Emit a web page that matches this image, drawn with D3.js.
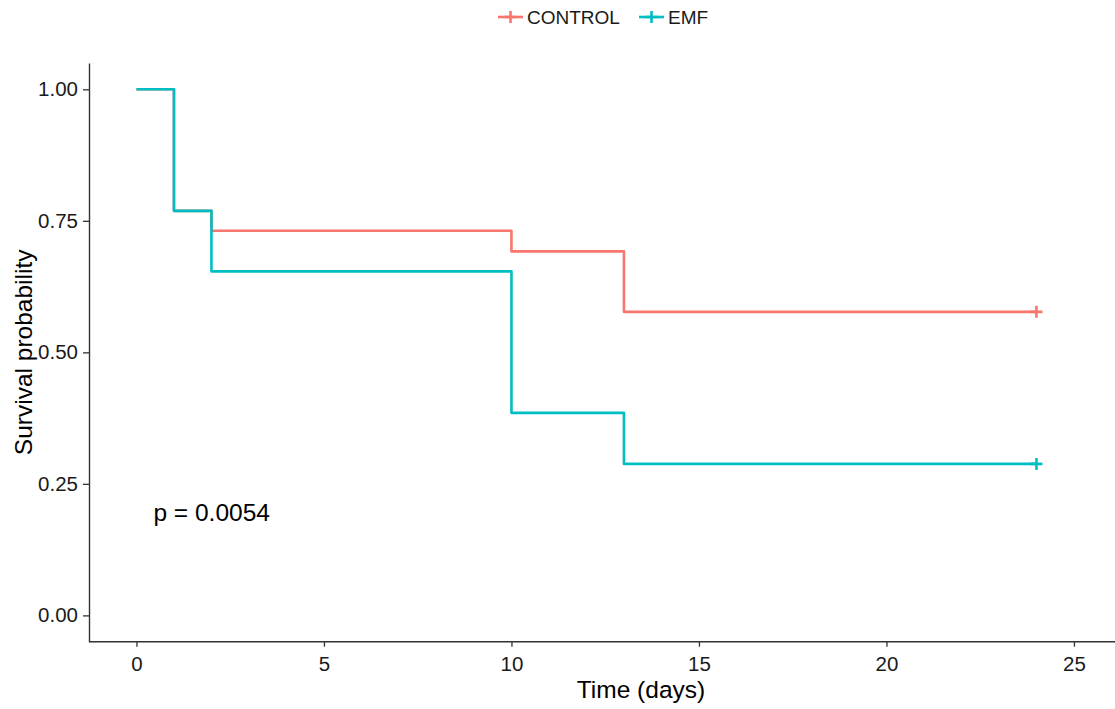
<!DOCTYPE html>
<html>
<head>
<meta charset="utf-8">
<script src="https://cdn.jsdelivr.net/npm/d3@7"></script>
<style>
  body { margin: 0; background: #fff; }
  svg { display: block; font-family: "Liberation Sans", Arial, sans-serif; }
</style>
</head>
<body>
<svg id="km"></svg>
<script>
// ---- data ----
const groups = ["CONTROL", "EMF"];
const groupColors = ["#F8766D", "#00BFC4"];
const controlTime = [0, 1, 2, 10, 13, 24];
const controlSurv = [1.00, 0.769, 0.731, 0.692, 0.577, 0.577];
const emfTime = [0, 1, 2, 10, 13, 24];
const emfSurv = [1.00, 0.769, 0.654, 0.385, 0.288, 0.288];
const censorTime = [24, 24];
const censorSurv = [0.577, 0.288];
const xTicks = [0, 5, 10, 15, 20, 25];
const yTicks = [0, 0.25, 0.5, 0.75, 1];
const pLabel = "p = 0.0054";

const W = 1115, H = 709;
const mLeft = 89, mBottom = 641.7, mTop = 63;

const svg = d3.select("#km")
    .attr("width", W)
    .attr("height", H);

svg.append("rect").attr("width", W).attr("height", H).attr("fill", "#fff");

// scales (ggplot style 5% expansion)
const xScale = d3.scaleLinear()
    .domain([-1.3, 27.3])
    .range([mLeft - 1.3, mLeft - 1.3 + 28.6 * 37.5]);

const yScale = d3.scaleLinear()
    .domain([-0.05, 1.05])
    .range([mBottom, mTop]);

const color = d3.scaleOrdinal().domain(groups).range(groupColors);

// axes
const xAxis = svg.append("g")
    .attr("class", "x axis")
    .attr("transform", `translate(0,${mBottom})`)
    .call(d3.axisBottom(xScale).tickValues(xTicks).tickSize(5).tickPadding(5).tickSizeOuter(0));

// stretch the x axis line back to the y axis
xAxis.select(".domain").attr("d", `M${mLeft},0H${W + 10}`);

const yAxis = svg.append("g")
    .attr("class", "y axis")
    .attr("transform", `translate(${mLeft},0)`)
    .call(d3.axisLeft(yScale).tickValues(yTicks).tickSize(6).tickPadding(5)
        .tickFormat(d3.format(".2f")).tickSizeOuter(0));

svg.selectAll(".axis path").attr("stroke", "#333").attr("stroke-width", 1.4);
svg.selectAll(".axis line").attr("stroke", "#333").attr("stroke-width", 1.3);
svg.selectAll(".axis text")
    .attr("fill", "#1a1a1a")
    .style("font-size", "20.5px")
    .style("font-family", "Liberation Sans, Arial, sans-serif");
xAxis.selectAll("text").attr("dy", "0.95em");

// axis titles
svg.append("text")
    .attr("x", 641)
    .attr("y", 698)
    .attr("text-anchor", "middle")
    .style("font-size", "24.5px")
    .attr("fill", "#000")
    .text("Time (days)");

svg.append("text")
    .attr("transform", `translate(32,${yScale(0.5)}) rotate(-90)`)
    .attr("text-anchor", "middle")
    .style("font-size", "24.5px")
    .attr("fill", "#000")
    .text("Survival probability");

// step curves
const curves = [
  { name: "CONTROL", time: controlTime, surv: controlSurv },
  { name: "EMF", time: emfTime, surv: emfSurv }
];

const line = d3.line()
    .x(d => xScale(d[0]))
    .y(d => yScale(d[1]))
    .curve(d3.curveStepAfter);

curves.forEach(c => {
  svg.append("path")
      .datum(c.time.map((t, i) => [t, c.surv[i]]))
      .attr("d", line)
      .attr("fill", "none")
      .attr("stroke", color(c.name))
      .attr("stroke-width", 2.6)
      .attr("stroke-linejoin", "round");
});

// censor marks
function plus(g, cx, cy, s, col) {
  g.append("path")
      .attr("d", `M${cx - s},${cy}H${cx + s}M${cx},${cy - s}V${cy + s}`)
      .attr("stroke", col)
      .attr("stroke-width", 2.6)
      .attr("fill", "none");
}
groups.forEach((gName, i) => {
  plus(svg, xScale(censorTime[i]), yScale(censorSurv[i]), 6, color(gName));
});

// p value
svg.append("text")
    .attr("x", xScale(0) + 17)
    .attr("y", 521)
    .style("font-size", "24.5px")
    .attr("fill", "#000")
    .text(pLabel);

// legend
const legendX = [498, 639];
const legend = svg.append("g").attr("class", "legend");
groups.forEach((gName, i) => {
  const lg = legend.append("g").attr("transform", `translate(${legendX[i]},17)`);
  lg.append("line")
      .attr("x1", 0).attr("x2", 25).attr("y1", 0).attr("y2", 0)
      .attr("stroke", color(gName)).attr("stroke-width", 2.6);
  plus(lg, 12.5, 0, 6, color(gName));
  lg.append("text")
      .attr("x", 29)
      .attr("dy", "0.36em")
      .style("font-size", "19px")
      .attr("fill", "#1a1a1a")
      .text(gName);
});
</script>
</body>
</html>
